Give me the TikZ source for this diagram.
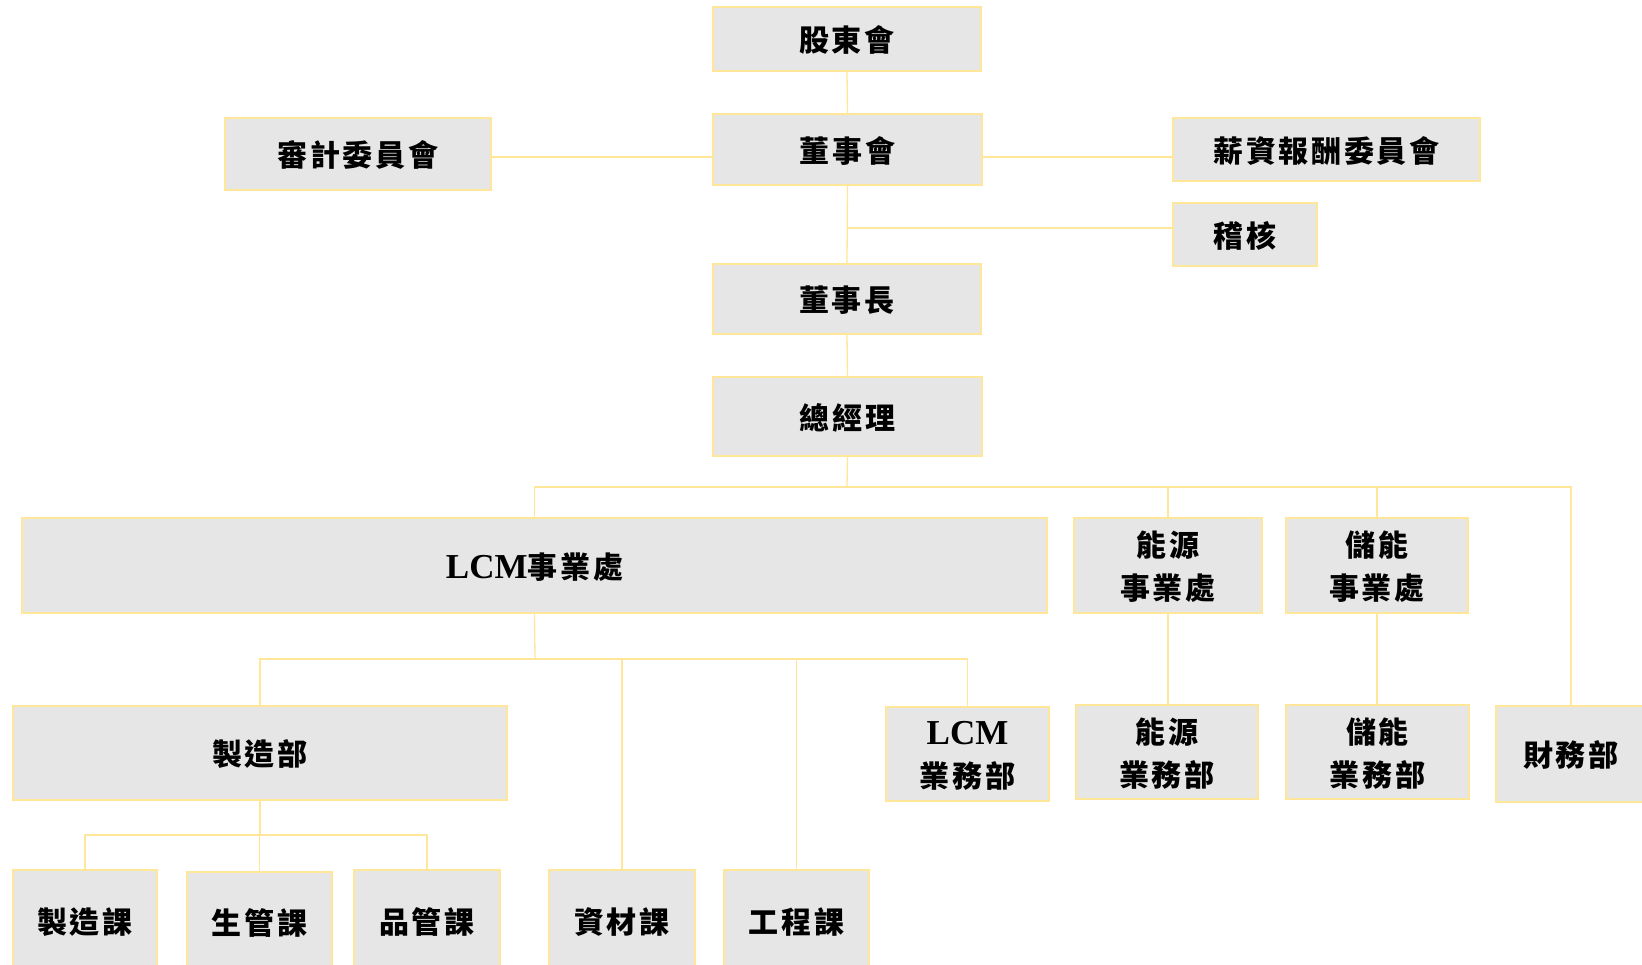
\documentclass[tikz,border=0pt]{standalone}
\usepackage{fontspec}
\newfontfamily\cjk[LetterSpace=9]{Noto Sans CJK TC}
\newfontfamily\lat{Liberation Serif}
\definecolor{boxfill}{RGB}{231,230,230}
\definecolor{gold}{RGB}{255,230,153}
\newcommand{\LCM}{{\lat\fontsize{35}{42}\selectfont\bfseries LCM}}
\begin{document}
\begin{tikzpicture}[x=1pt,y=-1pt,
  orgbox/.style={draw=gold,fill=boxfill,line width=1.6pt,inner sep=0pt,align=center,
    text depth=-2.4pt,font=\cjk\bfseries\fontsize{30}{43}\selectfont},
  conn/.style={draw=gold,line width=1.3pt}]
\useasboundingbox (0,0) rectangle (1642,965);
% top
\node[orgbox,minimum width=268,minimum height=64] (gdh) at (847,39) {股東會};
\node[orgbox,minimum width=269,minimum height=71] (dsh) at (847.5,149.5) {董事會};
\node[orgbox,minimum width=266,minimum height=72] (audit) at (358,154) {審計委員會};
\node[orgbox,minimum width=307,minimum height=63] (comp) at (1326.5,149.5) {薪資報酬委員會};
\node[orgbox,minimum width=144,minimum height=63] (jh) at (1245,234.5) {稽核};
\node[orgbox,minimum width=268,minimum height=70] (dsz) at (847,299) {董事長};
\node[orgbox,minimum width=269,minimum height=79] (zjl) at (847.5,416.5) {總經理};
% divisions
\node[orgbox,minimum width=1025,minimum height=95] (lcm) at (534.5,565.5) {\LCM 事業處};
\node[orgbox,minimum width=188,minimum height=95] (ny) at (1168,565.5) {能源\\事業處};
\node[orgbox,minimum width=182,minimum height=95] (cn) at (1377,565.5) {儲能\\事業處};
\node[orgbox,minimum width=150,minimum height=96] (cw) at (1571,754) {財務部};
% departments
\node[orgbox,minimum width=494,minimum height=94] (mfg) at (260,753) {製造部};
\node[orgbox,minimum width=163,minimum height=94] (lcmyw) at (967.5,754) {\LCM\\業務部};
\node[orgbox,minimum width=182,minimum height=94] (nyyw) at (1167,752) {能源\\業務部};
\node[orgbox,minimum width=183,minimum height=94] (cnyw) at (1377.5,752) {儲能\\業務部};
% sections
\node[orgbox,minimum width=144,minimum height=102] (mk) at (85,921) {製造課};
\node[orgbox,minimum width=145,minimum height=100] (sg) at (259.5,922) {生管課};
\node[orgbox,minimum width=146,minimum height=102] (pg) at (427,921) {品管課};
\node[orgbox,minimum width=146,minimum height=102] (zc) at (622,921) {資材課};
\node[orgbox,minimum width=145,minimum height=102] (gc) at (796.5,921) {工程課};
% junctions
\coordinate (j1) at (847,157);
\coordinate (j2) at (847,228);
\coordinate (b1) at (847,487);
\coordinate (b2) at (535,659);
\coordinate (b3) at (260,835);
% connectors
\draw[conn] (gdh.south) -- (dsh.north);
\draw[conn] (audit.east |- j1) -- (dsh.west |- j1);
\draw[conn] (dsh.east |- j1) -- (comp.west |- j1);
\draw[conn] (dsh.south) -- (dsz.north);
\draw[conn] (j2) -- (jh.west |- j2);
\draw[conn] (dsz.south) -- (zjl.north);
\draw[conn] (zjl.south) -- (b1);
\draw[conn] (lcm.north) -- (lcm.north |- b1) -- (cw.north |- b1) -- (cw.north);
\draw[conn] (ny.north |- b1) -- (ny.north);
\draw[conn] (cn.north |- b1) -- (cn.north);
\draw[conn] (ny.south) -- (nyyw.north -| ny.south);
\draw[conn] (cn.south) -- (cnyw.north -| cn.south);
\draw[conn] (lcm.south) -- (b2);
\draw[conn] (mfg.north) -- (mfg.north |- b2) -- (lcmyw.north |- b2) -- (lcmyw.north);
\draw[conn] (zc.north |- b2) -- (zc.north);
\draw[conn] (gc.north |- b2) -- (gc.north);
\draw[conn] (mfg.south) -- (b3);
\draw[conn] (mk.north) -- (mk.north |- b3) -- (pg.north |- b3) -- (pg.north);
\draw[conn] (sg.north |- b3) -- (sg.north);
\end{tikzpicture}
\end{document}
